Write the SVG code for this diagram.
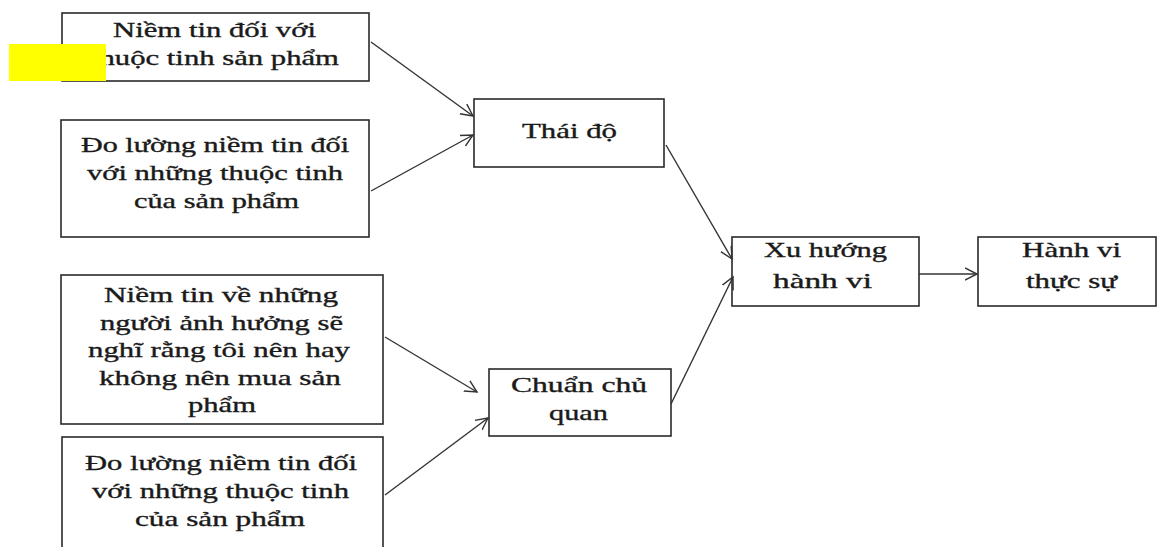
<svg xmlns="http://www.w3.org/2000/svg" width="1157" height="547" viewBox="0 0 1157 547">
<style>
.box{fill:#fff;stroke:#2a2a2a;stroke-width:1.6}
.t{font-family:"Liberation Serif","Times New Roman",serif;font-size:21px;fill:#1a1a1a;stroke:#1a1a1a;stroke-width:0.35;text-anchor:start}
.c{stroke:#333;stroke-width:1.4;fill:none;marker-end:url(#arr)}
</style>
<defs>
<marker id="arr" markerUnits="userSpaceOnUse" markerWidth="14" markerHeight="14" refX="12" refY="6" orient="auto" viewBox="0 0 14 12">
<path d="M0,0 L12,6 L0,12" fill="none" stroke="#333" stroke-width="1.4"/>
</marker>
</defs>
<rect width="1157" height="547" fill="#fff"/>
<g id="n1">
<rect class="box" x="62" y="13" width="307" height="68"/>
<text class="t" x="113" y="37" textLength="203" lengthAdjust="spacingAndGlyphs">Niềm tin đối với</text>
<text class="t" x="91" y="65" textLength="248" lengthAdjust="spacingAndGlyphs">thuộc tinh sản phẩm</text>
</g>
<rect id="highlight" x="9" y="44" width="97" height="37" fill="#ffff00"/>
<g id="n2">
<rect class="box" x="61" y="120" width="308" height="117"/>
<text class="t" x="81" y="152" textLength="268" lengthAdjust="spacingAndGlyphs">Đo lường niềm tin đối</text>
<text class="t" x="87" y="180" textLength="256" lengthAdjust="spacingAndGlyphs">với những thuộc tinh</text>
<text class="t" x="134" y="208" textLength="165" lengthAdjust="spacingAndGlyphs">của sản phẩm</text>
</g>
<g id="n3">
<rect class="box" x="61" y="275" width="322" height="149"/>
<text class="t" x="104" y="302" textLength="234" lengthAdjust="spacingAndGlyphs">Niềm tin về những</text>
<text class="t" x="100" y="330" textLength="243" lengthAdjust="spacingAndGlyphs">người ảnh hưởng sẽ</text>
<text class="t" x="88" y="357" textLength="262" lengthAdjust="spacingAndGlyphs">nghĩ rằng tôi nên hay</text>
<text class="t" x="99" y="385" textLength="242" lengthAdjust="spacingAndGlyphs">không nên mua sản</text>
<text class="t" x="188" y="412" textLength="68" lengthAdjust="spacingAndGlyphs">phẩm</text>
</g>
<g id="n4">
<rect class="box" x="62" y="437" width="321" height="120"/>
<text class="t" x="85" y="470" textLength="272" lengthAdjust="spacingAndGlyphs">Đo lường niềm tin đối</text>
<text class="t" x="92" y="498" textLength="257" lengthAdjust="spacingAndGlyphs">với những thuộc tinh</text>
<text class="t" x="135" y="526" textLength="170" lengthAdjust="spacingAndGlyphs">của sản phẩm</text>
</g>
<g id="n5">
<rect class="box" x="474" y="99" width="190" height="68"/>
<text class="t" x="522" y="138" textLength="95" lengthAdjust="spacingAndGlyphs">Thái độ</text>
</g>
<g id="n6">
<rect class="box" x="489" y="369" width="182" height="67"/>
<text class="t" x="511" y="392" textLength="136" lengthAdjust="spacingAndGlyphs">Chuẩn chủ</text>
<text class="t" x="549" y="420" textLength="59" lengthAdjust="spacingAndGlyphs">quan</text>
</g>
<g id="n7">
<rect class="box" x="732" y="237" width="187" height="69"/>
<text class="t" x="764" y="257" textLength="123" lengthAdjust="spacingAndGlyphs">Xu hướng</text>
<text class="t" x="773" y="288" textLength="99" lengthAdjust="spacingAndGlyphs">hành vi</text>
</g>
<g id="n8">
<rect class="box" x="978" y="237" width="178" height="69"/>
<text class="t" x="1022" y="257" textLength="99" lengthAdjust="spacingAndGlyphs">Hành vi</text>
<text class="t" x="1026" y="288" textLength="91" lengthAdjust="spacingAndGlyphs">thực sự</text>
</g>
<g id="connectors">
<line class="c" x1="371" y1="42" x2="473" y2="116"/>
<line class="c" x1="371" y1="191" x2="473" y2="135"/>
<line class="c" x1="385" y1="337" x2="477" y2="392"/>
<line class="c" x1="385" y1="495" x2="488" y2="418"/>
<line class="c" x1="666" y1="145" x2="732" y2="259"/>
<line class="c" x1="671" y1="404" x2="733" y2="277"/>
<line class="c" x1="919" y1="274" x2="977" y2="274"/>
</g>
</svg>
